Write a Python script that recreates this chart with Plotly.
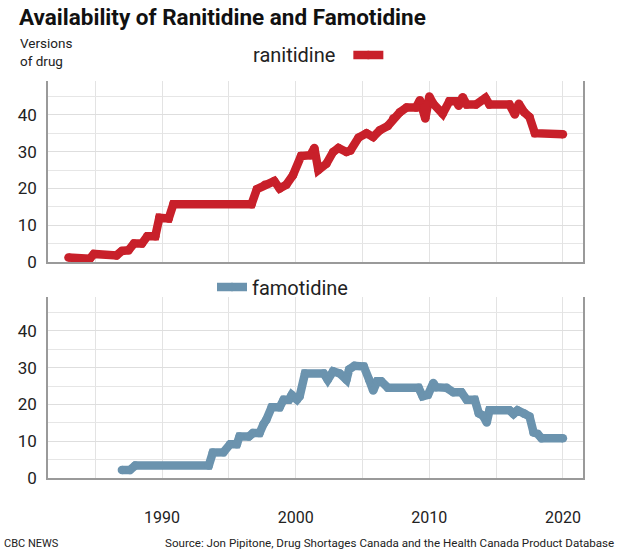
import plotly.graph_objects as go
from plotly.subplots import make_subplots

# ---- data ----
ranitidine_years = [1983.0, 1984.6, 1984.9, 1986.6, 1987.0, 1987.5, 1987.9, 1988.5, 1988.9, 1989.5,
                    1989.8, 1990.5, 1990.85, 1996.7, 1997.1, 1997.7, 1998.4, 1998.8, 1999.3, 1999.8,
                    2000.4, 2001.1, 2001.4, 2001.7, 2002.3, 2002.8, 2003.2, 2003.8, 2004.1, 2004.7,
                    2005.3, 2005.8, 2006.3, 2006.9, 2007.3, 2007.8, 2008.3, 2009.0, 2009.3, 2009.7,
                    2010.0, 2010.3, 2011.0, 2011.5, 2012.0, 2012.2, 2012.5, 2012.8, 2013.5, 2014.2,
                    2014.5, 2016.0, 2016.4, 2016.7, 2017.1, 2017.5, 2017.9, 2020.0]
ranitidine_values = [1.2, 0.9, 2.2, 1.8, 3, 3.2, 5, 5, 7, 7,
                     12, 11.8, 15.7, 15.7, 19.8, 21, 22, 20, 21, 23.6,
                     28.8, 29, 31, 25, 26.7, 29.9, 31, 29.9, 30.3, 33.8,
                     35, 34, 35.8, 37, 39, 40.7, 42, 42, 44, 39,
                     45, 43, 40.3, 43.7, 43.7, 42.5, 44.8, 42.8, 42.8, 44.6,
                     42.8, 42.8, 40.1, 43, 40.7, 39.4, 35, 34.7]

famotidine_years = [1987.0, 1987.6, 1988.0, 1993.5, 1993.8, 1994.6, 1995.1, 1995.6, 1995.8, 1996.5,
                    1996.8, 1997.3, 1997.6, 1997.8, 1998.2, 1998.8, 1999.1, 1999.5, 1999.7, 2000.1,
                    2000.3, 2000.7, 2002.1, 2002.4, 2002.8, 2003.3, 2003.8, 2004.0, 2004.4, 2005.1,
                    2005.5, 2005.8, 2006.1, 2006.4, 2006.9, 2009.2, 2009.5, 2009.9, 2010.3, 2010.5,
                    2011.3, 2011.8, 2012.4, 2012.8, 2013.4, 2013.7, 2014.0, 2014.3, 2014.5, 2016.0,
                    2016.3, 2016.6, 2017.1, 2017.5, 2017.8, 2018.1, 2018.4, 2020.0]
famotidine_values = [2.2, 2.2, 3.4, 3.4, 6.9, 7, 9.2, 9.2, 11.3, 11.3,
                     12.2, 12.2, 14.7, 15.8, 19.2, 19.2, 21.3, 21.3, 22.6, 21.3,
                     22.2, 28.4, 28.4, 26.7, 29, 28.4, 26.7, 29.5, 30.5, 30.3,
                     26.7, 23.8, 26.3, 26.3, 24.5, 24.5, 22.2, 22.6, 25.8, 24.7,
                     24.5, 23.3, 23.3, 21.3, 21.3, 17.6, 17, 15.1, 18.4, 18.4,
                     17.4, 18.4, 17.5, 16.7, 12.4, 12, 10.8, 10.8]

x_tick_vals = [1990, 2000, 2010, 2020]
x_tick_text = ["1990", "2000", "2010", "2020"]
y_tick_vals = [0, 10, 20, 30, 40]

title_text = "Availability of Ranitidine and Famotidine"
y_label = "Versions<br>of drug"
credit = "CBC NEWS"
source = "Source: Jon Pipitone, Drug Shortages Canada and the Health Canada Product Database"

RED = "#C8202A"
BLUE = "#6B93AE"
FONT = "Roboto"
TXT = "#222222"

W, H = 620, 553
ML, MR, MT, MB = 48, 37, 81, 75
plot_w = W - ML - MR
plot_h = H - MT - MB

fig = make_subplots(rows=2, cols=1, shared_xaxes=False, vertical_spacing=0.088)

fig.add_trace(go.Scatter(x=ranitidine_years, y=ranitidine_values, mode="lines+markers",
                         line=dict(color=RED, width=8.5), marker=dict(color=RED, size=8.5),
                         name="", legend="legend2", showlegend=True, hoverinfo="skip"), row=1, col=1)
fig.add_trace(go.Scatter(x=famotidine_years, y=famotidine_values, mode="lines+markers",
                         line=dict(color=BLUE, width=8.5), marker=dict(color=BLUE, size=8.5),
                         name="famotidine", legend="legend", showlegend=True, hoverinfo="skip"), row=2, col=1)

xcommon = dict(range=[1981.47, 2021.5], tickmode="array", tickvals=x_tick_vals,
               showgrid=True, gridcolor="#e3e3e3", gridwidth=1,
               minor=dict(dtick=5, tick0=1985, showgrid=True, gridcolor="#e3e3e3", gridwidth=1),
               showline=True, linecolor="#9a9a9a", linewidth=1.5, zeroline=False,
               ticks="", fixedrange=True)
ycommon = dict(range=[0, 49.2], tickmode="array", tickvals=y_tick_vals,
               showgrid=True, gridcolor="#dedede", gridwidth=1,
               minor=dict(dtick=5, tick0=0, showgrid=True, gridcolor="#e6e6e6", gridwidth=1),
               showline=True, linecolor="#9a9a9a", linewidth=1.5, mirror=True, zeroline=False,
               ticks="", ticklabelstandoff=6, fixedrange=True,
               tickfont=dict(family=FONT, size=17, color=TXT))

top_dom = [(478 - 262) / plot_h, 1.0]
bot_dom = [0.0, (478 - 297) / plot_h]

fig.update_xaxes(**xcommon)
fig.update_yaxes(**ycommon)
fig.update_xaxes(showticklabels=False, row=1, col=1)
fig.update_xaxes(ticktext=x_tick_text, ticklabelstandoff=24,
                 tickfont=dict(family=FONT, size=16, color=TXT), row=2, col=1)
fig.update_layout(yaxis=dict(domain=top_dom), yaxis2=dict(domain=bot_dom))

fig.update_layout(
    width=W, height=H,
    margin=dict(l=ML, r=MR, t=MT, b=MB),
    paper_bgcolor="white", plot_bgcolor="white",
    font=dict(family=FONT, color=TXT),
    title=dict(text="<b>" + title_text + "</b>", x=19 / W, xanchor="left",
               y=1 - 17 / H, yanchor="middle", yref="container",
               font=dict(family=FONT, size=22.5, color="#111111")),
    legend=dict(x=(212 - ML) / plot_w, y=(478 - 287) / plot_h,
                xanchor="left", yanchor="middle", itemwidth=30,
                font=dict(family=FONT, size=20, color=TXT), bgcolor="rgba(0,0,0,0)"),
    legend2=dict(x=(251 - ML) / plot_w, y=(478 - 55) / plot_h,
                 xanchor="left", yanchor="middle", itemwidth=30,
                 title=dict(text="ranitidine ", side="left",
                            font=dict(family=FONT, size=20, color=TXT)),
                 font=dict(family=FONT, size=20, color=TXT), bgcolor="rgba(0,0,0,0)"),
    showlegend=True,
)

fig.add_annotation(text=y_label, xref="paper", yref="paper",
                   x=(18 - ML) / plot_w, y=(478 - 33) / plot_h,
                   xanchor="left", yanchor="top", align="left", showarrow=False,
                   font=dict(family=FONT, size=13.5, color=TXT))
fig.add_annotation(text=credit, xref="paper", yref="paper",
                   x=(2 - ML) / plot_w, y=(478 - 543) / plot_h,
                   xanchor="left", yanchor="middle", showarrow=False,
                   font=dict(family=FONT, size=11, color=TXT))
fig.add_annotation(text=source, xref="paper", yref="paper",
                   x=(616 - ML) / plot_w, y=(478 - 543) / plot_h,
                   xanchor="right", yanchor="middle", showarrow=False,
                   font=dict(family=FONT, size=11.6, color=TXT))

fig.write_html("out.html", config={"displayModeBar": False},
               post_script="document.body.style.margin='0';")
